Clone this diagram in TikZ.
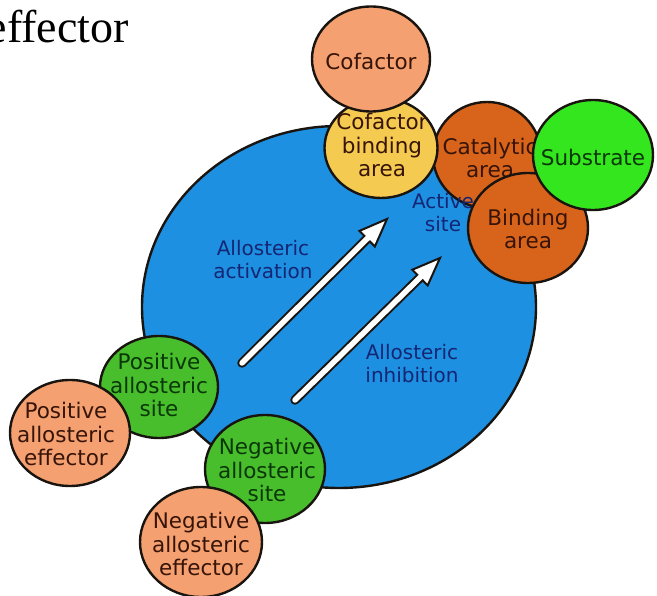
\documentclass[tikz,border=0pt]{standalone}
\usepackage{fontspec}
\setmainfont{DejaVu Sans}
\newfontfamily\timesfont{Liberation Serif}
\usetikzlibrary{shapes.geometric,calc}
\definecolor{outline}{RGB}{25,20,15}
\definecolor{blobblue}{RGB}{30,144,226}
\definecolor{salmon}{RGB}{244,160,112}
\definecolor{yellowc}{RGB}{245,202,80}
\definecolor{orangec}{RGB}{216,100,28}
\definecolor{substr}{RGB}{52,230,30}
\definecolor{siteg}{RGB}{72,190,45}
\definecolor{navy}{RGB}{20,38,115}
\definecolor{brownt}{RGB}{55,20,8}
\definecolor{greent}{RGB}{10,55,8}
\begin{document}
\begin{tikzpicture}[x=1pt,y=-1pt,
  outl/.style={draw=outline, line width=2.4pt},
  blob/.style={ellipse, outl, inner sep=0pt},
  lbl/.style={align=center, font=\fontsize{20}{23}\selectfont, inner sep=0pt},
  clbl/.style={align=center, font=\fontsize{21.5}{23.5}\selectfont, inner sep=0pt},
  arrowshaft/.style={line width=9.5pt, draw=outline, line cap=round},
  arrowinner/.style={line width=5.5pt, draw=white, line cap=round},
  arrowhead/.style={fill=white, draw=outline, line width=2pt, line join=miter}
]
\useasboundingbox (0,0) rectangle (657,596);

% fat arrow macro
\newcommand{\fatarrow}[2]{%
  \path ($(#2)!28pt!(#1)$) coordinate (#2n);
  \draw[arrowshaft] (#1) -- (#2n);
  \draw[arrowhead] ($(#2n)!11pt!90:(#2)$) -- (#2) -- ($(#2n)!11pt!-90:(#2)$) -- cycle;
  \draw[arrowinner] (#1) -- ($(#2n)!3pt!(#2)$);
}

\node[font=\timesfont\fontsize{46}{50}\selectfont, anchor=base east, inner sep=0pt] (eff) at (129,43) {effector};

% enzyme body
\node[blob, fill=blobblue, minimum width=394pt, minimum height=362pt] (enz) at (339,307) {};

% arrows
\coordinate (a1s) at (242,363);
\coordinate (a1e) at (387,219);
\coordinate (a2s) at (295,400);
\coordinate (a2e) at (440,258);
\fatarrow{a1s}{a1e}
\fatarrow{a2s}{a2e}

\node[lbl, text=navy] (act) at (263,260) {Allosteric\\activation};
\node[lbl, text=navy] (inh) at (412,364) {Allosteric\\inhibition};

% active site
\node[blob, fill=orangec, minimum width=108pt, minimum height=106pt] (cat) at (487,155) {};
\node[clbl, text=brownt] (catt) at (490,158) {Catalytic\\area};
\node[lbl, text=navy] (acts) at (443,213) {Active\\site};
\node[blob, fill=orangec, minimum width=120pt, minimum height=110pt] (bind) at (528,228) {};
\node[clbl, text=brownt] (bindt) at (528,229) {Binding\\area};
\node[blob, fill=substr, minimum width=120pt, minimum height=110pt] (sub) at (593,155) {};
\node[clbl, text=greent] (subt) at (593,157) {Substrate};
\node[blob, fill=yellowc, minimum width=113pt, minimum height=100pt] (cba) at (381,148) {};
\node[clbl, text=brownt] (cbat) at (382,145) {Cofactor\\binding\\area};
\node[blob, fill=salmon, minimum width=118pt, minimum height=105pt] (cof) at (371,59) {};
\node[clbl, text=brownt] (coft) at (371,61) {Cofactor};

% allosteric sites
\node[blob, fill=siteg, minimum width=118pt, minimum height=102pt] (pos) at (159,387) {};
\node[clbl, text=greent] (post) at (159,385) {Positive\\allosteric\\site};
\node[blob, fill=salmon, minimum width=120pt, minimum height=106pt] (pose) at (70,433) {};
\node[clbl, text=brownt] (poset) at (66,434) {Positive\\allosteric\\effector};
\node[blob, fill=siteg, minimum width=120pt, minimum height=108pt] (neg) at (265,469) {};
\node[clbl, text=greent] (negt) at (267,470) {Negative\\allosteric\\site};
\node[blob, fill=salmon, minimum width=122pt, minimum height=110pt] (nege) at (201,542) {};
\node[clbl, text=brownt] (neget) at (201,544) {Negative\\allosteric\\effector};
\end{tikzpicture}
\end{document}
